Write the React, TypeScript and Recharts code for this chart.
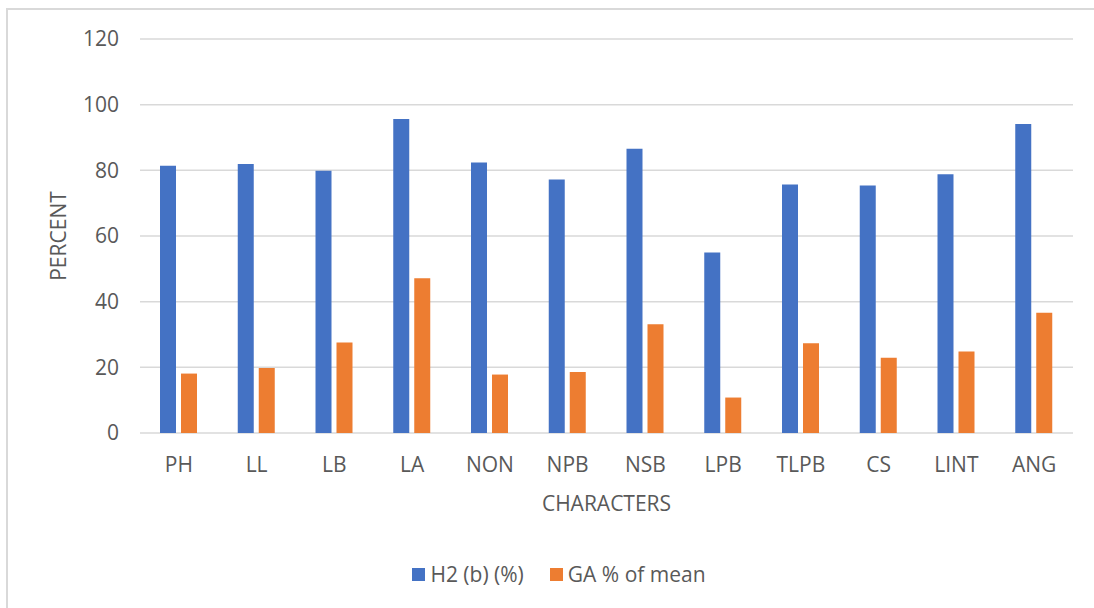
import React from 'react';
import { BarChart, Bar, XAxis, YAxis, CartesianGrid, Legend } from 'recharts';

const characters = ['PH', 'LL', 'LB', 'LA', 'NON', 'NPB', 'NSB', 'LPB', 'TLPB', 'CS', 'LINT', 'ANG'];
const heritability = [81.4, 81.9, 79.9, 95.6, 82.4, 77.2, 86.6, 55.0, 75.7, 75.4, 78.8, 94.1];
const geneticAdvance = [18.1, 19.8, 27.6, 47.1, 17.8, 18.6, 33.1, 10.8, 27.3, 22.9, 24.8, 36.6];
const seriesNames = ['H2 (b) (%)', 'GA % of mean'];
const yTicks = [0, 20, 40, 60, 80, 100, 120];

const FONT = '"Open Sans", "Liberation Sans", sans-serif';
const TEXT = '#595959';
const SIZE = 21;

const data = characters.map((c, i) => ({
  name: c,
  h2: heritability[i],
  ga: geneticAdvance[i],
}));

// keep the legend in series order (recharts sorts it otherwise)
const LegendBox = ({ payload }: any) => {
  const items = [...(payload || [])].sort(
    (a: any, b: any) => seriesNames.indexOf(a.value) - seriesNames.indexOf(b.value)
  );
  return (
    <div style={{ display: 'flex', justifyContent: 'center', alignItems: 'center', height: 30, fontFamily: FONT, fontSize: SIZE, color: TEXT }}>
      {items.map((p: any, i: number) => (
        <div key={i} style={{ display: 'flex', alignItems: 'center', marginRight: i === 0 ? 26 : 0 }}>
          <span style={{ width: 13, height: 13, background: p.color, display: 'inline-block', marginRight: 5 }} />
          <span>{p.value}</span>
        </div>
      ))}
    </div>
  );
};

export default function App() {
  return (
    <div style={{ position: 'fixed', left: 0, top: 0, width: 1094, height: 608, background: '#fff', overflow: 'hidden' }}>
      {/* chart area border, only the top and left edges are in frame */}
      <div style={{ position: 'absolute', left: 6, top: 8, width: 1200, height: 700, borderTop: '2px solid #d9d9d9', borderLeft: '2px solid #d9d9d9' }} />
      <div style={{ position: 'absolute', left: 0, top: 0 }}>
        <BarChart
          width={1094}
          height={608}
          data={data}
          margin={{ top: 39, right: 21, left: 40, bottom: 65 }}
          barCategoryGap={20}
          barGap={5}
        >
          <CartesianGrid vertical={false} stroke="#d9d9d9" strokeWidth={1.5} />
          <XAxis
            dataKey="name"
            axisLine={false}
            tickLine={false}
            tickSize={0}
            tickMargin={24}
            height={80}
            tick={{ fill: TEXT, fontSize: SIZE, fontFamily: FONT }}
            label={{
              content: ({ viewBox }: any) => {
                const cx = viewBox.x + viewBox.width / 2;
                const cy = viewBox.y + 70;
                return (
                  <text x={cx} y={cy} textAnchor="middle" dominantBaseline="central" fill={TEXT} fontSize={SIZE} fontFamily={FONT}>
                    CHARACTERS
                  </text>
                );
              },
            }}
          />
          <YAxis
            width={100}
            domain={[0, 120]}
            ticks={yTicks}
            axisLine={false}
            tickLine={false}
            tickSize={0}
            tickMargin={21}
            tick={{ fill: TEXT, fontSize: SIZE, fontFamily: FONT }}
            label={{
              content: ({ viewBox }: any) => {
                const cx = viewBox.x + 18;
                const cy = viewBox.y + viewBox.height / 2;
                return (
                  <text x={cx} y={cy} transform={`rotate(-90 ${cx} ${cy})`} textAnchor="middle" dominantBaseline="central" fill={TEXT} fontSize={SIZE} fontFamily={FONT}>
                    PERCENT
                  </text>
                );
              },
            }}
          />
          <Legend
            verticalAlign="bottom"
            content={<LegendBox />}
            wrapperStyle={{ left: 0, width: 1070, bottom: 19, paddingLeft: 24 }}
          />
          <Bar dataKey="h2" name={seriesNames[0]} fill="#4472C4" isAnimationActive={false} />
          <Bar dataKey="ga" name={seriesNames[1]} fill="#ED7D31" isAnimationActive={false} />
        </BarChart>
      </div>
    </div>
  );
}
